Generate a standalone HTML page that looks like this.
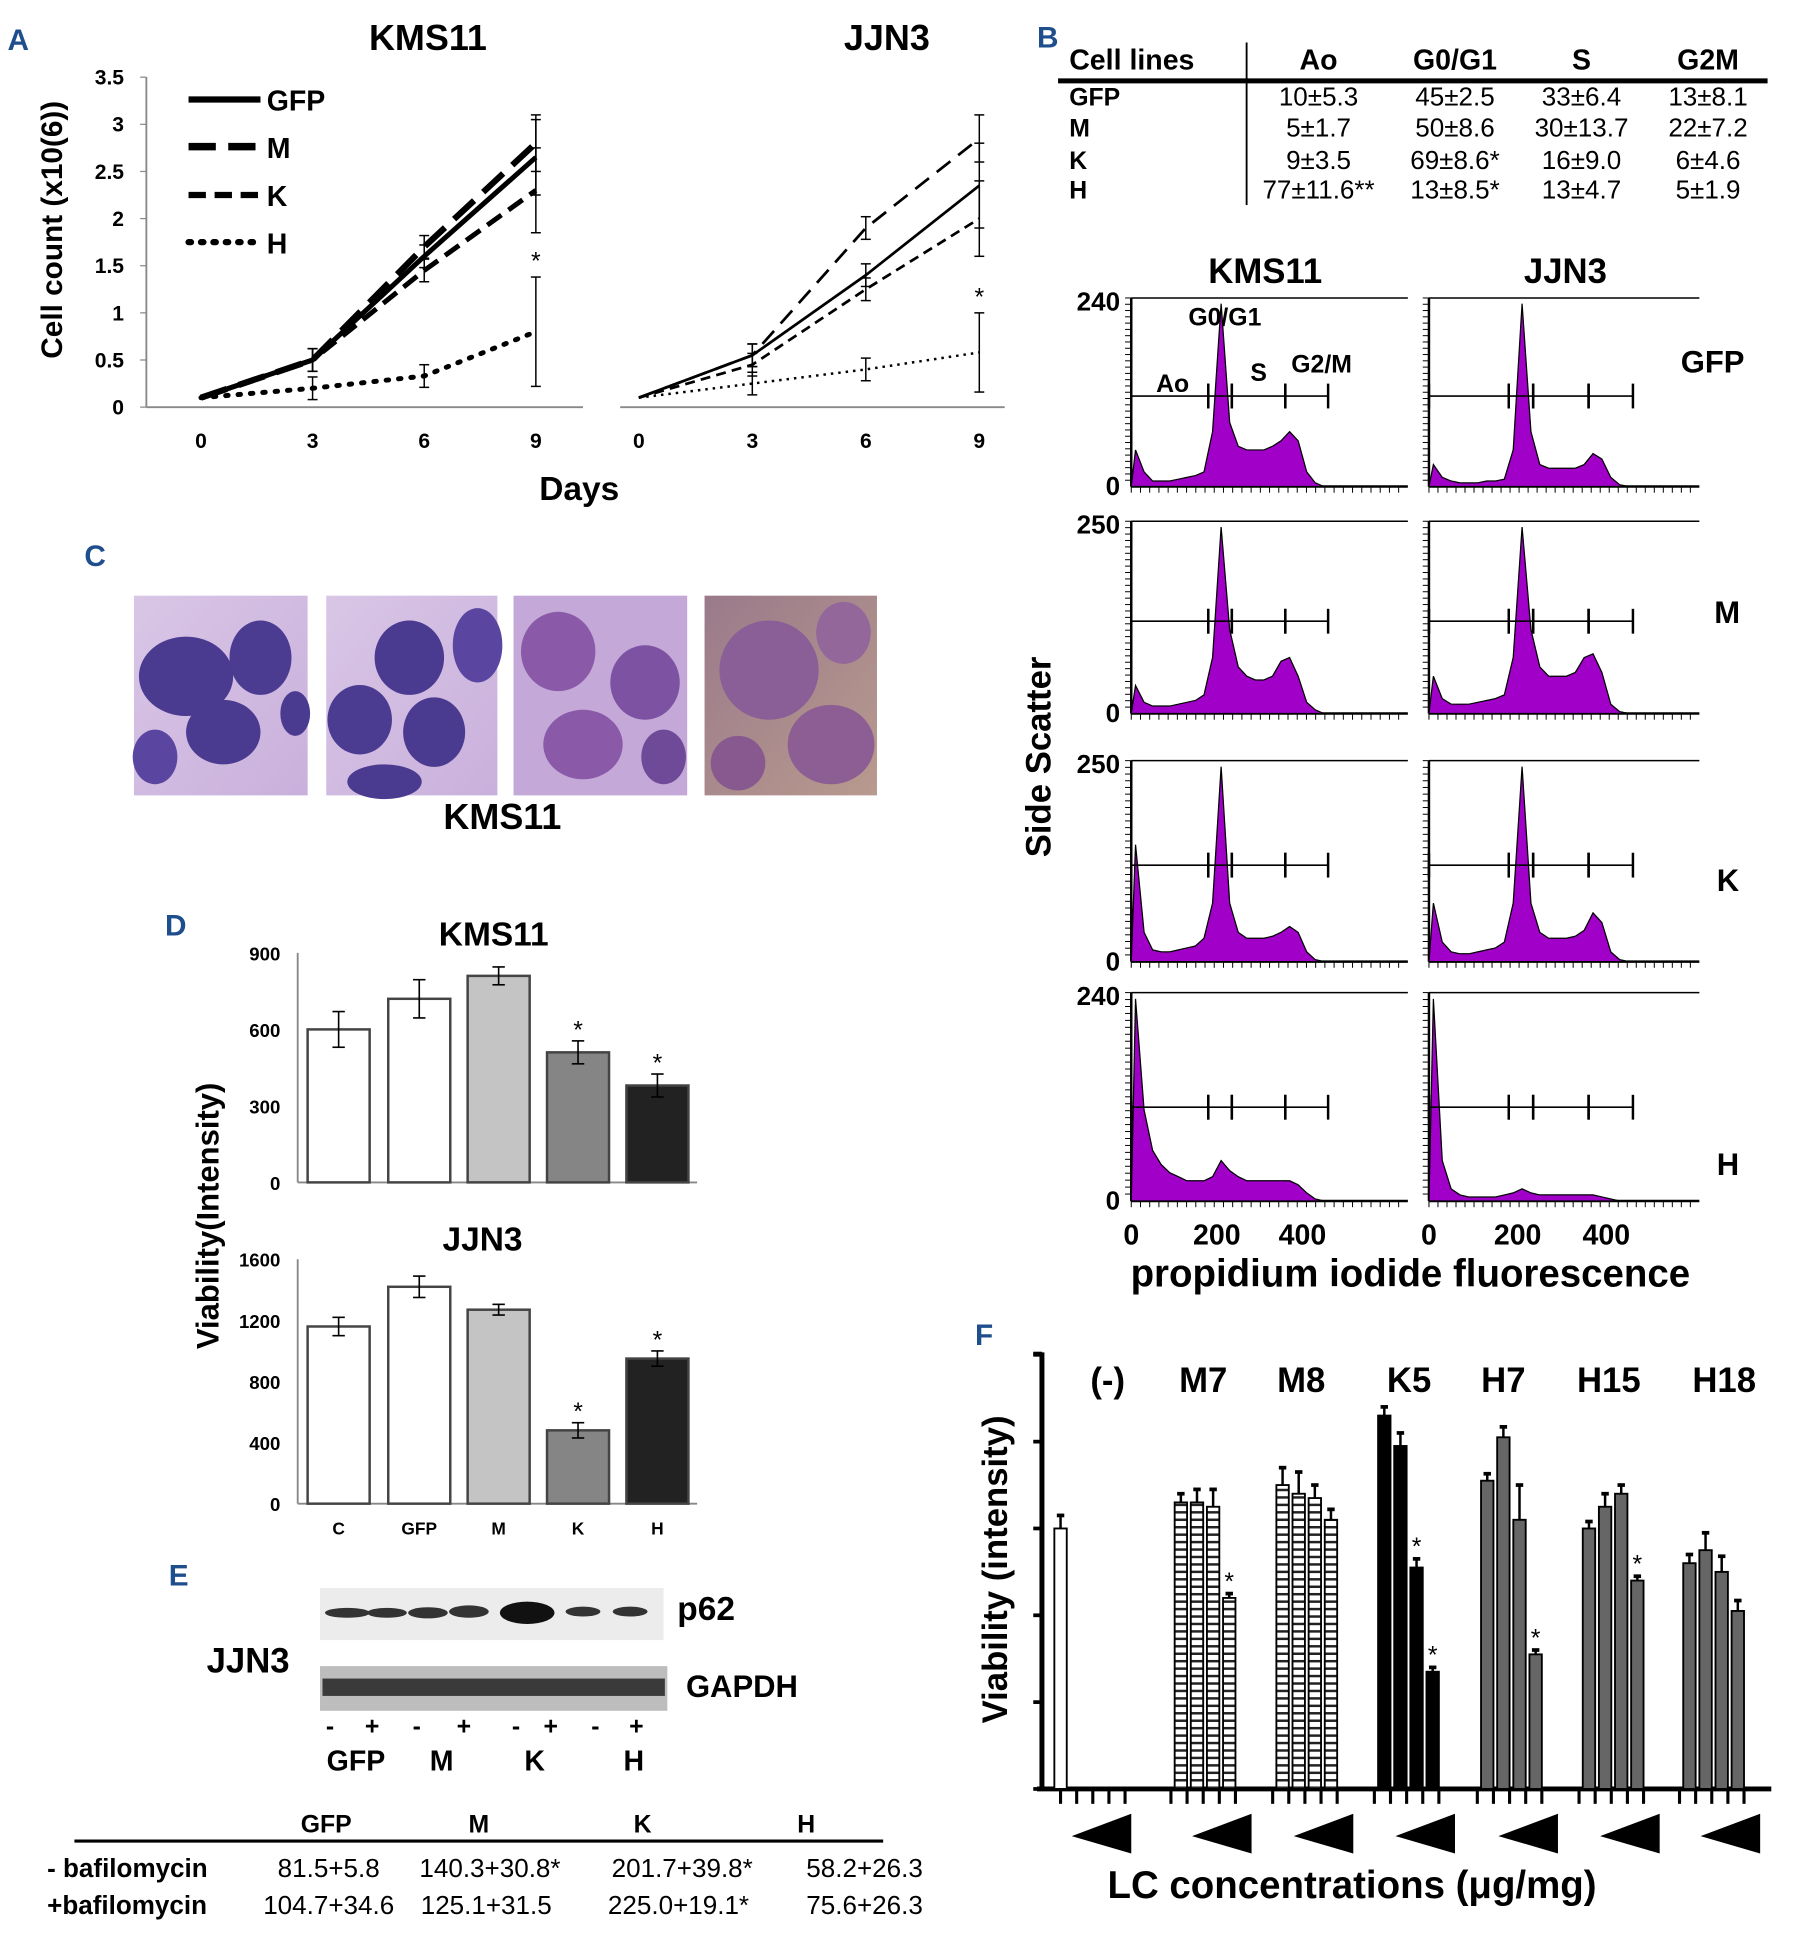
<!DOCTYPE html>
<html><head><meta charset="utf-8"><style>
html,body{margin:0;padding:0;background:#fff;}
svg{display:block;font-family:"Liberation Sans",Arial,sans-serif;}
.b{font-weight:bold;}
</style></head><body>
<svg id="fig" width="1811" height="1948" viewBox="0 0 1460 1570" xmlns="http://www.w3.org/2000/svg">
<defs>
<pattern id="stripe" width="6" height="6" patternUnits="userSpaceOnUse">
<rect width="6" height="6" fill="#fff"/><rect width="6" height="2" fill="#222"/></pattern>
<linearGradient id="ph1" x1="0" y1="0" x2="1" y2="1"><stop offset="0" stop-color="#d9c6e6"/><stop offset="1" stop-color="#c9b0dc"/></linearGradient>
<linearGradient id="ph4" x1="0" y1="0" x2="1" y2="1"><stop offset="0" stop-color="#9a7a8a"/><stop offset="1" stop-color="#b89a8e"/></linearGradient>
</defs>
<text x="6" y="40" font-size="24" class="b" fill="#1f4e8c">A</text>
<text x="836" y="38" font-size="24" class="b" fill="#1f4e8c">B</text>
<text x="68" y="456" font-size="24" class="b" fill="#1f4e8c">C</text>
<text x="133" y="754" font-size="24" class="b" fill="#1f4e8c">D</text>
<text x="136" y="1278" font-size="24" class="b" fill="#1f4e8c">E</text>
<text x="786" y="1084" font-size="24" class="b" fill="#1f4e8c">F</text>

<text x="345" y="40" font-size="29" class="b" text-anchor="middle">KMS11</text>
<text x="715" y="40" font-size="29" class="b" text-anchor="middle">JJN3</text>
<text transform="translate(50,185) rotate(-90)" font-size="24" class="b" text-anchor="middle">Cell count (x10(6))</text>
<text x="467" y="403" font-size="27" class="b" text-anchor="middle">Days</text>
<g id="gA"></g>

<g font-size="21">
<g class="b" font-size="23">
<text x="862" y="56">Cell lines</text>
<text x="1063" y="56" text-anchor="middle">Ao</text>
<text x="1173" y="56" text-anchor="middle">G0/G1</text>
<text x="1275" y="56" text-anchor="middle">S</text>
<text x="1377" y="56" text-anchor="middle">G2M</text>
</g>
<line x1="853" y1="65" x2="1425" y2="65" stroke="#000" stroke-width="4"/>
<line x1="1005" y1="34" x2="1005" y2="165" stroke="#000" stroke-width="1.5"/>
<g class="b" font-size="20"><text x="862" y="85">GFP</text><text x="862" y="110">M</text><text x="862" y="136">K</text><text x="862" y="160">H</text></g>
<g text-anchor="middle">
<text x="1063" y="85">10±5.3</text><text x="1173" y="85">45±2.5</text><text x="1275" y="85">33±6.4</text><text x="1377" y="85">13±8.1</text>
<text x="1063" y="110">5±1.7</text><text x="1173" y="110">50±8.6</text><text x="1275" y="110">30±13.7</text><text x="1377" y="110">22±7.2</text>
<text x="1063" y="136">9±3.5</text><text x="1173" y="136">69±8.6*</text><text x="1275" y="136">16±9.0</text><text x="1377" y="136">6±4.6</text>
<text x="1063" y="160">77±11.6**</text><text x="1173" y="160">13±8.5*</text><text x="1275" y="160">13±4.7</text><text x="1377" y="160">5±1.9</text>
</g></g>

<text x="1020" y="228" font-size="28" class="b" text-anchor="middle">KMS11</text>
<text x="1262" y="228" font-size="28" class="b" text-anchor="middle">JJN3</text>
<text transform="translate(847,610) rotate(-90)" font-size="28" class="b" text-anchor="middle">Side Scatter</text>
<text x="1137" y="1037" font-size="31" class="b" text-anchor="middle">propidium iodide fluorescence</text>
<g class="b" font-size="25">
<text x="1355" y="300">GFP</text>
<text x="1382" y="502">M</text>
<text x="1384" y="718">K</text>
<text x="1384" y="947">H</text>
</g>
<g font-size="20" class="b">
<text x="958" y="262">G0/G1</text><text x="932" y="316">Ao</text><text x="1008" y="307">S</text><text x="1041" y="300">G2/M</text>
</g>
<g id="gB"></g>

<g>
<rect x="108" y="480" width="140" height="161" fill="url(#ph1)"/>
<ellipse cx="150" cy="545" rx="38" ry="32" fill="#4a3a90"/><ellipse cx="210" cy="530" rx="25" ry="30" fill="#4b3c92"/><ellipse cx="180" cy="590" rx="30" ry="26" fill="#4a3a90"/><ellipse cx="125" cy="610" rx="18" ry="22" fill="#5a46a0"/><ellipse cx="238" cy="575" rx="12" ry="18" fill="#4a3a90"/>
<rect x="263" y="480" width="138" height="161" fill="url(#ph1)"/>
<ellipse cx="330" cy="530" rx="28" ry="30" fill="#4a3a90"/><ellipse cx="290" cy="580" rx="26" ry="28" fill="#4b3c92"/><ellipse cx="350" cy="590" rx="25" ry="28" fill="#4a3a90"/><ellipse cx="385" cy="520" rx="20" ry="30" fill="#5a46a0"/><ellipse cx="310" cy="630" rx="30" ry="14" fill="#4a3a90"/>
<rect x="414" y="480" width="140" height="161" fill="#c4a8d8"/>
<ellipse cx="450" cy="525" rx="30" ry="32" fill="#8a5aa8"/><ellipse cx="520" cy="550" rx="28" ry="30" fill="#7d52a2"/><ellipse cx="470" cy="600" rx="32" ry="28" fill="#8a5aa8"/><ellipse cx="535" cy="610" rx="18" ry="22" fill="#6e4a98"/>
<rect x="568" y="480" width="139" height="161" fill="url(#ph4)"/>
<ellipse cx="620" cy="540" rx="40" ry="40" fill="#8a5e96"/><ellipse cx="670" cy="600" rx="35" ry="32" fill="#8d5e94"/><ellipse cx="680" cy="510" rx="22" ry="25" fill="#93679a"/><ellipse cx="595" cy="615" rx="22" ry="22" fill="#87598f"/>
<text x="405" y="668" font-size="29" class="b" text-anchor="middle">KMS11</text>
</g>

<text x="398" y="762" font-size="27" class="b" text-anchor="middle">KMS11</text>
<text x="389" y="1008" font-size="27" class="b" text-anchor="middle">JJN3</text>
<text transform="translate(176,980) rotate(-90)" font-size="25" class="b" text-anchor="middle">Viability(Intensity)</text>
<g id="gD"></g>

<g>
<text x="200" y="1348" font-size="28" class="b" text-anchor="middle">JJN3</text>
<rect x="258" y="1280" width="277" height="42" fill="#ececec"/>
<g fill="#333">
<ellipse cx="280" cy="1300" rx="18" ry="4"/><ellipse cx="312" cy="1300" rx="16" ry="4"/><ellipse cx="345" cy="1300" rx="16" ry="4.5"/><ellipse cx="378" cy="1299" rx="16" ry="5"/><ellipse cx="425" cy="1300" rx="22" ry="9" fill="#111"/><ellipse cx="470" cy="1299" rx="14" ry="4"/><ellipse cx="508" cy="1299" rx="14" ry="4"/>
</g>
<text x="546" y="1306" font-size="27" class="b">p62</text>
<rect x="258" y="1343" width="280" height="36" fill="#bdbdbd"/>
<rect x="260" y="1353" width="276" height="14" fill="#3a3a3a"/>
<text x="553" y="1368" font-size="25" class="b">GAPDH</text>
<g font-size="20" class="b" text-anchor="middle">
<text x="266" y="1398">-</text><text x="300" y="1398">+</text><text x="336" y="1398">-</text><text x="374" y="1398">+</text><text x="416" y="1398">-</text><text x="444" y="1398">+</text><text x="480" y="1398">-</text><text x="513" y="1398">+</text>
</g>
<g font-size="23" class="b" text-anchor="middle">
<text x="287" y="1427">GFP</text><text x="356" y="1427">M</text><text x="431" y="1427">K</text><text x="511" y="1427">H</text>
</g>
<g font-size="20" class="b" text-anchor="middle">
<text x="263" y="1477">GFP</text><text x="386" y="1477">M</text><text x="518" y="1477">K</text><text x="650" y="1477">H</text>
</g>
<line x1="60" y1="1484" x2="712" y2="1484" stroke="#000" stroke-width="2.5"/>
<g font-size="21">
<text x="38" y="1513" class="b">- bafilomycin</text><text x="38" y="1543" class="b">+bafilomycin</text>
<text x="265" y="1513" text-anchor="middle">81.5+5.8</text><text x="395" y="1513" text-anchor="middle">140.3+30.8*</text><text x="550" y="1513" text-anchor="middle">201.7+39.8*</text><text x="697" y="1513" text-anchor="middle">58.2+26.3</text>
<text x="265" y="1543" text-anchor="middle">104.7+34.6</text><text x="392" y="1543" text-anchor="middle">125.1+31.5</text><text x="547" y="1543" text-anchor="middle">225.0+19.1*</text><text x="697" y="1543" text-anchor="middle">75.6+26.3</text>
</g></g>

<text transform="translate(812,1265) rotate(-90)" font-size="28" class="b" text-anchor="middle">Viability (intensity)</text>
<text x="1090" y="1530" font-size="31" class="b" text-anchor="middle">LC concentrations (μg/mg)</text>
<g id="gF"></g>
</svg>
<script>
const days = [0, 3, 6, 9];
const seriesNames = ["GFP", "M", "K", "H"];
const kmsGFP = [0.1, 0.5, 1.6, 2.65];
const kmsM = [0.1, 0.5, 1.7, 2.8];
const kmsK = [0.1, 0.5, 1.45, 2.3];
const kmsH = [0.1, 0.2, 0.33, 0.8];
const kmsErr9 = [0.4, 0.3, 0.45, 0.58];
const jjnGFP = [0.1, 0.55, 1.4, 2.35];
const jjnM = [0.1, 0.55, 1.9, 2.85];
const jjnK = [0.1, 0.45, 1.25, 2.0];
const jjnH = [0.1, 0.25, 0.4, 0.58];
const jjnErr9 = [0.45, 0.25, 0.4, 0.42];
const yTicksA = [0, 0.5, 1, 1.5, 2, 2.5, 3, 3.5];
const yTickLabelsA = ["0", "0.5", "1", "1.5", "2", "2.5", "3", "3.5"];
const binWidth = 20;
const kmsHistGFP = [0.2,0.08,0.03,0.03,0.03,0.04,0.05,0.06,0.08,0.3,1.0,0.35,0.22,0.2,0.2,0.2,0.22,0.25,0.3,0.25,0.08,0.02,0,0];
const jjnHistGFP = [0.12,0.05,0.03,0.02,0.02,0.02,0.03,0.03,0.04,0.2,1.0,0.3,0.12,0.1,0.1,0.1,0.1,0.12,0.18,0.15,0.05,0.01,0,0];
const kmsHistM = [0.15,0.06,0.04,0.04,0.04,0.05,0.06,0.07,0.1,0.3,1.0,0.45,0.25,0.2,0.18,0.18,0.2,0.28,0.3,0.2,0.06,0.02,0,0];
const jjnHistM = [0.2,0.08,0.05,0.05,0.05,0.06,0.07,0.08,0.1,0.3,1.0,0.45,0.25,0.2,0.2,0.2,0.22,0.3,0.32,0.22,0.05,0.01,0,0];
const kmsHistK = [0.6,0.15,0.06,0.05,0.05,0.06,0.07,0.08,0.12,0.3,1.0,0.3,0.15,0.12,0.12,0.12,0.13,0.15,0.18,0.15,0.05,0.01,0,0];
const jjnHistK = [0.3,0.1,0.05,0.04,0.04,0.05,0.06,0.07,0.1,0.3,1.0,0.3,0.15,0.12,0.12,0.12,0.13,0.16,0.25,0.2,0.05,0.01,0,0];
const kmsHistH = [1.0,0.45,0.25,0.18,0.14,0.12,0.1,0.1,0.1,0.12,0.2,0.15,0.12,0.1,0.1,0.1,0.1,0.1,0.1,0.08,0.04,0.01,0,0];
const jjnHistH = [1.0,0.2,0.06,0.03,0.02,0.02,0.02,0.02,0.03,0.04,0.06,0.04,0.03,0.03,0.03,0.03,0.03,0.03,0.03,0.02,0.01,0,0,0];
const histYMaxLabels = ["240", "250", "250", "240"];
const histXTicks = [0, 200, 400];
const dCategories = ["C", "GFP", "M", "K", "H"];
const dKmsValues = [600, 720, 810, 510, 380];
const dKmsErr = [70, 75, 35, 45, 45];
const dJjnValues = [1160, 1420, 1270, 480, 950];
const dJjnErr = [60, 70, 35, 50, 50];
const dKmsTicks = [0, 300, 600, 900];
const dJjnTicks = [0, 400, 800, 1200, 1600];
const dKmsStars = [false, false, false, true, true];
const dJjnStars = [false, false, false, true, true];
const fGroups = ["(-)", "M7", "M8", "K5", "H7", "H15", "H18"];
const fNeg = [3.0];
const fNegErr = [0.15];
const fM7 = [3.3, 3.3, 3.25, 2.2];
const fM8 = [3.5, 3.4, 3.35, 3.1];
const fK5 = [4.3, 3.95, 2.55, 1.35];
const fH7 = [3.55, 4.05, 3.1, 1.55];
const fH15 = [3.0, 3.25, 3.4, 2.4];
const fH18 = [2.6, 2.75, 2.5, 2.05];
const fErr = [[0.1,0.15,0.2,0.05],[0.2,0.25,0.15,0.12],[0.1,0.15,0.1,0.05],[0.08,0.12,0.4,0.05],[0.08,0.15,0.1,0.05],[0.1,0.2,0.18,0.12]];
const fStars = [[false,false,false,true],[false,false,false,false],[false,false,true,true],[false,false,false,true],[false,false,false,true],[false,false,false,false]];
const fTicks = [0, 1, 2, 3, 4, 5];

const NS = "http://www.w3.org/2000/svg";
function mk(parent, tag, attrs, text) {
  const e = document.createElementNS(NS, tag);
  for (const k in attrs) e.setAttribute(k, attrs[k]);
  if (text !== undefined) e.textContent = text;
  parent.appendChild(e);
  return e;
}

(function () {
  const g = document.getElementById("gA");
  const y = v => 328 - v * 76;
  const xK = d => 162 + d * 30;
  const xJ = d => 515 + d * 30.5;
  mk(g, "line", {x1:118, y1:62, x2:118, y2:328, stroke:"#888", "stroke-width":1.5});
  mk(g, "line", {x1:118, y1:328, x2:470, y2:328, stroke:"#888", "stroke-width":1.5});
  mk(g, "line", {x1:500, y1:328, x2:810, y2:328, stroke:"#888", "stroke-width":1.5});
  yTicksA.forEach((t, i) => {
    mk(g, "line", {x1:113, y1:y(t), x2:118, y2:y(t), stroke:"#888"});
    const tl = mk(g, "text", {x:100, y:y(t)+6, "font-size":17, "font-weight":"bold", "text-anchor":"end"}, yTickLabelsA[i]);
    
    
  });
  days.forEach(d => {
    [xK, xJ].forEach(fx => {
      const tl = mk(g, "text", {x:fx(d), y:361, "font-size":17, "font-weight":"bold", "text-anchor":"middle"}, String(d));
      
      
    });
  });
  const stylesK = [{w:4, d:""}, {w:5, d:"22 10"}, {w:4, d:"14 7"}, {w:4, d:"2 8", cap:"round"}];
  const stylesJ = [{w:2.2, d:""}, {w:2.2, d:"14 8"}, {w:2.2, d:"8 5"}, {w:2, d:"2 4"}];
  function drawSet(sets, errs, fx, styles, prefix) {
    sets.forEach((vals, si) => {
      const pts = vals.map((v, i) => fx(days[i]) + "," + y(v)).join(" ");
      const pl = mk(g, "polyline", {points:pts, fill:"none", stroke:"#000", "stroke-width":styles[si].w, "stroke-dasharray":styles[si].d, "stroke-linecap":styles[si].cap || "butt"});
      
      
      vals.forEach((v, i) => {
        if (i === 0) return;
        const e = i === 3 ? errs[si] : 0.12;
        const x = fx(days[i]);
        mk(g, "line", {x1:x, y1:y(v-e), x2:x, y2:y(v+e), stroke:"#000", "stroke-width":1.2});
        mk(g, "line", {x1:x-4, y1:y(v-e), x2:x+4, y2:y(v-e), stroke:"#000", "stroke-width":1.2});
        mk(g, "line", {x1:x-4, y1:y(v+e), x2:x+4, y2:y(v+e), stroke:"#000", "stroke-width":1.2});
      });
    });
    const hv = sets[3][3] + errs[3];
    const st = mk(g, "text", {x:fx(9), y:y(hv)-6, "font-size":20, "text-anchor":"middle"}, "*");
    
    
  }
  drawSet([kmsGFP, kmsM, kmsK, kmsH], kmsErr9, xK, stylesK, "kms11");
  drawSet([jjnGFP, jjnM, jjnK, jjnH], jjnErr9, xJ, stylesJ, "jjn3");
  const ly = [80, 118, 157, 195];
  seriesNames.forEach((n, i) => {
    const s = stylesK[i];
    const ll = mk(g, "line", {x1:152, y1:ly[i], x2:210, y2:ly[i], stroke:"#000", "stroke-width":s.w+1, "stroke-dasharray":s.d, "stroke-linecap":s.cap || "butt"});
    
    
    const lt = mk(g, "text", {x:215, y:ly[i]+9, "font-size":23, "font-weight":"bold"}, n);
    
    
  });
})();

(function () {
  const g = document.getElementById("gB");
  const rows = [{t:240, b:392}, {t:420, b:575}, {t:613, b:775}, {t:800, b:968}];
  const cols = [{x0:912, x400:1050, right:1135}, {x0:1152, x400:1295, right:1370}];
  const hists = [[kmsHistGFP, jjnHistGFP], [kmsHistM, jjnHistM], [kmsHistK, jjnHistK], [kmsHistH, jjnHistH]];
  const names = ["gfp", "m", "k", "h"];
  rows.forEach((r, ri) => {
    const yl = mk(g, "text", {x:903, y:r.t+10, "font-size":21, "font-weight":"bold", "text-anchor":"end"}, histYMaxLabels[ri]);
    
    
    const y0 = mk(g, "text", {x:903, y:r.b+7, "font-size":21, "font-weight":"bold", "text-anchor":"end"}, "0");
    
    
    cols.forEach((c, ci) => {
      const sx = (c.x400 - c.x0) / 400;
      const fx = v => c.x0 + v * sx;
      const H = (r.b - r.t) * 0.97;
      mk(g, "line", {x1:c.x0, y1:r.t, x2:c.x0, y2:r.b, stroke:"#000", "stroke-width":2});
      mk(g, "line", {x1:c.x0, y1:r.b, x2:c.right, y2:r.b, stroke:"#000", "stroke-width":2});
      mk(g, "line", {x1:c.x0, y1:r.t, x2:c.right, y2:r.t, stroke:"#000", "stroke-width":1.2});
      for (let k = 0; k < 30; k++) {
        const ty = r.t + k * (r.b - r.t) / 30;
        mk(g, "line", {x1:c.x0-5, y1:ty, x2:c.x0, y2:ty, stroke:"#000", "stroke-width":0.8});
        const tx = c.x0 + k * (c.right - c.x0) / 30;
        mk(g, "line", {x1:tx, y1:r.b, x2:tx, y2:r.b+5, stroke:"#000", "stroke-width":0.8});
      }
      const data = hists[ri][ci];
      let d = "M" + fx(0) + "," + r.b;
      data.forEach((v, i) => {
        const xm = fx(i * binWidth + binWidth / 2);
        d += " L" + xm + "," + (r.b - v * H);
      });
      d += " L" + fx(data.length * binWidth) + "," + r.b + " Z";
      const p = mk(g, "path", {d:d, fill:"#a000c8", stroke:"#000", "stroke-width":1});
      
      
      const gy = r.t + (r.b - r.t) * (ri === 3 ? 0.55 : 0.52);
      const gates = [[fx(0), fx(180)], [fx(180), fx(235)], [fx(235), fx(360)], [fx(360), fx(460)]];
      gates.forEach(gt => {
        mk(g, "line", {x1:gt[0], y1:gy, x2:gt[1], y2:gy, stroke:"#000", "stroke-width":1.3});
        mk(g, "line", {x1:gt[0], y1:gy-10, x2:gt[0], y2:gy+10, stroke:"#000", "stroke-width":2});
        mk(g, "line", {x1:gt[1], y1:gy-10, x2:gt[1], y2:gy+10, stroke:"#000", "stroke-width":2});
      });
      if (ri === 3) {
        histXTicks.forEach(t => {
          const xl = mk(g, "text", {x:fx(t), y:1003, "font-size":23, "font-weight":"bold", "text-anchor":"middle"}, String(t));
          
          
        });
      }
    });
  });
})();

(function () {
  const g = document.getElementById("gD");
  const xs = [248, 313, 377, 441, 505];
  const fills = ["#fff", "#fff", "#c4c4c4", "#858585", "#222"];
  function chart(vals, errs, ticks, stars, y0, ymaxPx, vmax, prefix) {
    const y = v => y0 - v * (y0 - ymaxPx) / vmax;
    mk(g, "line", {x1:240, y1:ymaxPx, x2:240, y2:y0, stroke:"#888", "stroke-width":1.5});
    mk(g, "line", {x1:240, y1:y0, x2:562, y2:y0, stroke:"#888", "stroke-width":1.5});
    ticks.forEach(t => {
      const tl = mk(g, "text", {x:226, y:y(t)+6, "font-size":15, "font-weight":"bold", "text-anchor":"end"}, String(t));
      
      
    });
    vals.forEach((v, i) => {
      const r = mk(g, "rect", {x:xs[i], y:y(v), width:50, height:y0 - y(v), fill:fills[i], stroke:"#444", "stroke-width":2});
      
      
      const cx = xs[i] + 25;
      mk(g, "line", {x1:cx, y1:y(v-errs[i]), x2:cx, y2:y(v+errs[i]), stroke:"#000", "stroke-width":1.3});
      mk(g, "line", {x1:cx-5, y1:y(v-errs[i]), x2:cx+5, y2:y(v-errs[i]), stroke:"#000", "stroke-width":1.3});
      mk(g, "line", {x1:cx-5, y1:y(v+errs[i]), x2:cx+5, y2:y(v+errs[i]), stroke:"#000", "stroke-width":1.3});
      if (stars[i]) {
        const s = mk(g, "text", {x:cx, y:y(v+errs[i])-2, "font-size":20, "text-anchor":"middle"}, "*");
        
        
      }
    });
  }
  chart(dKmsValues, dKmsErr, dKmsTicks, dKmsStars, 953, 768, 900, "kms11-viability");
  chart(dJjnValues, dJjnErr, dJjnTicks, dJjnStars, 1212, 1015, 1600, "jjn3-viability");
  dCategories.forEach((c, i) => {
    const t = mk(g, "text", {x:xs[i]+25, y:1237, "font-size":14, "font-weight":"bold", "text-anchor":"middle"}, c);
    
    
  });
})();

(function () {
  const g = document.getElementById("gF");
  const y0 = 1442, unit = 70;
  const y = v => y0 - v * unit;
  mk(g, "line", {x1:840, y1:1090, x2:840, y2:y0, stroke:"#000", "stroke-width":4});
  mk(g, "line", {x1:833, y1:1091, x2:840, y2:1091, stroke:"#000", "stroke-width":3});
  mk(g, "line", {x1:836, y1:y0, x2:1428, y2:y0, stroke:"#000", "stroke-width":4});
  fTicks.forEach(t => {
    const tk = mk(g, "line", {x1:833, y1:y(t), x2:840, y2:y(t), stroke:"#000", "stroke-width":3});
    
    
  });
  const labelX = [893, 970, 1049, 1136, 1212, 1297, 1390];
  fGroups.forEach((n, i) => {
    const t = mk(g, "text", {x:labelX[i], y:1122, "font-size":28, "font-weight":"bold", "text-anchor":"middle"}, n);
    
    
  });
  const groupStart = [850, 947, 1029, 1111, 1194, 1276, 1357];
  const sets = [fM7, fM8, fK5, fH7, fH15, fH18];
  const fillsF = ["url(#stripe)", "url(#stripe)", "#000", "#666", "#666", "#666"];
  function bar(x, v, e, fill, star, name) {
    const r = mk(g, "rect", {x:x, y:y(v), width:10, height:y0 - y(v), fill:fill, stroke:"#000", "stroke-width":1.5});
    
    
    const cx = x + 5;
    mk(g, "line", {x1:cx, y1:y(v), x2:cx, y2:y(v+e), stroke:"#000", "stroke-width":2});
    mk(g, "line", {x1:cx-3, y1:y(v+e), x2:cx+3, y2:y(v+e), stroke:"#000", "stroke-width":3});
    if (star) {
      const s = mk(g, "text", {x:cx, y:y(v+e)-3, "font-size":20, "text-anchor":"middle"}, "*");
      
      
    }
  }
  bar(groupStart[0], fNeg[0], fNegErr[0], "#fff", false, "bar-negative-control");
  sets.forEach((vals, gi) => {
    vals.forEach((v, bi) => {
      bar(groupStart[gi+1] + bi * 13, v, fErr[gi][bi], fillsF[gi], fStars[gi][bi], 'bar-' + fGroups[gi+1].toLowerCase() + '-' + (bi+1));
    });
  });
  groupStart.forEach((gx, gi) => {
    for (let k = 0; k < 5; k++) {
      const tx = gx + (gi === 0 ? 5 : -3) + k * 13;
      mk(g, "line", {x1:tx, y1:y0, x2:tx, y2:y0+12, stroke:"#000", "stroke-width":2.5});
    }
    const tr = mk(g, "polygon", {points:(gx+14) + "," + 1480 + " " + (gx+62) + "," + 1462 + " " + (gx+62) + "," + 1494, fill:"#000"});
    
    
  });
})();
</script>
</body></html>
